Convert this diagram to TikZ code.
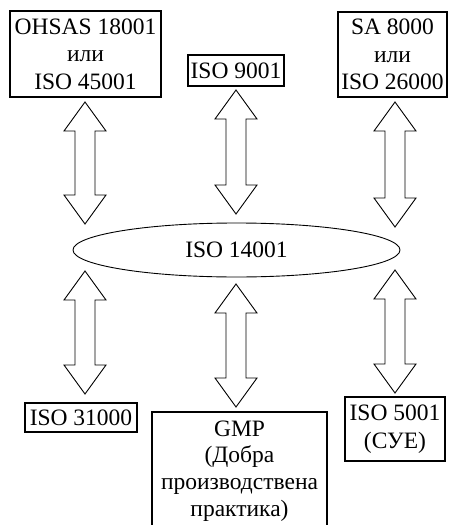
\documentclass[tikz,border=0pt]{standalone}
\usepackage{fontspec}
\setmainfont{Liberation Serif}
\tikzset{
  box/.style={draw, line width=1.3pt, fill=white, inner sep=0pt, align=center,
    font=\fontsize{23.5}{27.5}\selectfont},
  dblarrow/.style={draw, line width=0.9pt, fill=white, line join=miter},
  ell/.style={draw, ellipse, line width=0.9pt, inner sep=0pt,
    font=\fontsize{23.5}{27.5}\selectfont}
}
\newcommand{\dblarr}[3]{%
  \draw[dblarrow] (#1,#2) -- ({#1+21},{#2+29}) -- ({#1+10},{#2+29}) -- ({#1+10},{#3-29})
    -- ({#1+21},{#3-29}) -- (#1,#3) -- ({#1-21},{#3-29}) -- ({#1-10},{#3-29})
    -- ({#1-10},{#2+29}) -- ({#1-21},{#2+29}) -- cycle;}
\usetikzlibrary{shapes.geometric}
\begin{document}
\begin{tikzpicture}[x=1pt,y=-1pt]
\useasboundingbox (0,0) rectangle (448,525);
% top boxes
\node[box, minimum width=151pt, minimum height=86pt] (ohsas) at (85.5,54) {OHSAS 18001\\или\\ISO 45001};
\node[box, minimum width=96pt, minimum height=31pt] (q9001) at (236,70.5) {ISO 9001};
\node[box, minimum width=109pt, minimum height=85pt] (sa) at (392.5,54.5) {SA 8000\\или\\ISO 26000};
% ellipse
\node[ell, minimum width=327pt, minimum height=54pt] (iso14) at (236.5,250) {ISO 14001};
% bottom boxes
\node[box, minimum width=112pt, minimum height=29pt] (r31000) at (81,417.5) {ISO 31000};
\node[box, minimum width=175pt, minimum height=118pt, font=\fontsize{23.5}{26.8}\selectfont] (gmp) at (239.5,471) {GMP\\(Добра\\производствена\\практика)};
\node[box, minimum width=100pt, minimum height=64pt] (e5001) at (395,429) {ISO 5001\\(СУЕ)};
% double arrows
\dblarr{85}{102}{224}
\dblarr{236}{90}{214}
\dblarr{395}{102}{227}
\dblarr{85}{271}{394}
\dblarr{236}{284}{407}
\dblarr{395}{270}{393}
\end{tikzpicture}
\end{document}
